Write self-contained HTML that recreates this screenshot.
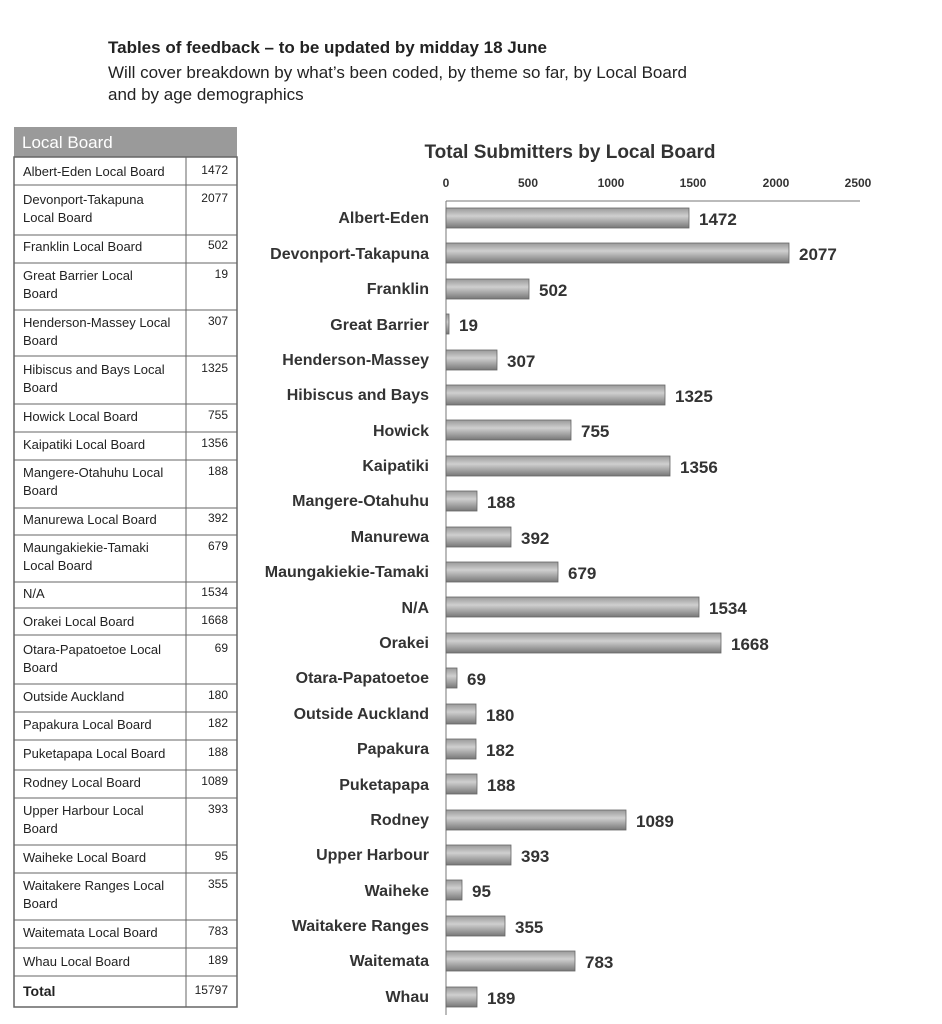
<!DOCTYPE html>
<html><head><meta charset="utf-8"><style>
body{margin:0;background:#fff;}
svg{display:block;font-family:"Liberation Sans",sans-serif;}
.t{font-size:13px;fill:#222}
.v{font-size:12px;fill:#222;text-anchor:end}
.c{font-size:16px;font-weight:bold;fill:#333;text-anchor:end}
.n{font-size:17px;font-weight:bold;fill:#333}
.ax{font-size:12px;font-weight:bold;fill:#333;text-anchor:middle}
</style></head><body>
<svg width="942" height="1024" viewBox="0 0 942 1024">
<defs><linearGradient id="g" x1="0" y1="0" x2="0" y2="1"><stop offset="0" stop-color="#999"/><stop offset="0.4" stop-color="#cfcfcf"/><stop offset="1" stop-color="#777"/></linearGradient></defs>
<text x="108" y="53" font-size="17" font-weight="bold" fill="#222">Tables of feedback – to be updated by midday 18 June</text>
<text x="108" y="78" font-size="17" fill="#222">Will cover breakdown by what’s been coded, by theme so far, by Local Board</text>
<text x="108" y="100" font-size="17" fill="#222">and by age demographics</text>
<rect x="14" y="127" width="223" height="30" fill="#9a9a9a"/>
<text x="22" y="148" font-size="17" fill="#fff">Local Board</text>
<rect x="14" y="157" width="223" height="850" fill="none" stroke="#666" stroke-width="1.5"/>
<line x1="186" y1="157" x2="186" y2="1007" stroke="#666"/>
<g stroke="#666">
<line x1="14" x2="237" y1="185" y2="185"/><line x1="14" x2="237" y1="235" y2="235"/><line x1="14" x2="237" y1="263" y2="263"/><line x1="14" x2="237" y1="310" y2="310"/><line x1="14" x2="237" y1="356" y2="356"/><line x1="14" x2="237" y1="404" y2="404"/><line x1="14" x2="237" y1="432" y2="432"/><line x1="14" x2="237" y1="460" y2="460"/><line x1="14" x2="237" y1="508" y2="508"/><line x1="14" x2="237" y1="535" y2="535"/><line x1="14" x2="237" y1="582" y2="582"/><line x1="14" x2="237" y1="608" y2="608"/><line x1="14" x2="237" y1="635" y2="635"/><line x1="14" x2="237" y1="684" y2="684"/><line x1="14" x2="237" y1="712" y2="712"/><line x1="14" x2="237" y1="740" y2="740"/><line x1="14" x2="237" y1="770" y2="770"/><line x1="14" x2="237" y1="798" y2="798"/><line x1="14" x2="237" y1="845" y2="845"/><line x1="14" x2="237" y1="873" y2="873"/><line x1="14" x2="237" y1="920" y2="920"/><line x1="14" x2="237" y1="948" y2="948"/><line x1="14" x2="237" y1="976" y2="976"/>
</g>
<g class="t">
<text x="23" y="176">Albert-Eden Local Board</text>
<text x="23" y="204">Devonport-Takapuna</text><text x="23" y="222">Local Board</text>
<text x="23" y="251">Franklin Local Board</text>
<text x="23" y="280">Great Barrier Local</text><text x="23" y="298">Board</text>
<text x="23" y="327">Henderson-Massey Local</text><text x="23" y="345">Board</text>
<text x="23" y="374">Hibiscus and Bays Local</text><text x="23" y="392">Board</text>
<text x="23" y="421">Howick Local Board</text>
<text x="23" y="449">Kaipatiki Local Board</text>
<text x="23" y="477">Mangere-Otahuhu Local</text><text x="23" y="495">Board</text>
<text x="23" y="524">Manurewa Local Board</text>
<text x="23" y="552">Maungakiekie-Tamaki</text><text x="23" y="570">Local Board</text>
<text x="23" y="598">N/A</text>
<text x="23" y="626">Orakei Local Board</text>
<text x="23" y="654">Otara-Papatoetoe Local</text><text x="23" y="672">Board</text>
<text x="23" y="701">Outside Auckland</text>
<text x="23" y="729">Papakura Local Board</text>
<text x="23" y="758">Puketapapa Local Board</text>
<text x="23" y="787">Rodney Local Board</text>
<text x="23" y="815">Upper Harbour Local</text><text x="23" y="833">Board</text>
<text x="23" y="862">Waiheke Local Board</text>
<text x="23" y="890">Waitakere Ranges Local</text><text x="23" y="908">Board</text>
<text x="23" y="937">Waitemata Local Board</text>
<text x="23" y="966">Whau Local Board</text>
<text x="23" y="996" font-size="14" font-weight="bold">Total</text>
</g>
<g class="v">
<text x="228" y="174">1472</text><text x="228" y="202">2077</text><text x="228" y="249">502</text><text x="228" y="278">19</text><text x="228" y="325">307</text><text x="228" y="372">1325</text><text x="228" y="419">755</text><text x="228" y="447">1356</text><text x="228" y="475">188</text><text x="228" y="522">392</text><text x="228" y="550">679</text><text x="228" y="596">1534</text><text x="228" y="624">1668</text><text x="228" y="652">69</text><text x="228" y="699">180</text><text x="228" y="727">182</text><text x="228" y="756">188</text><text x="228" y="785">1089</text><text x="228" y="813">393</text><text x="228" y="860">95</text><text x="228" y="888">355</text><text x="228" y="935">783</text><text x="228" y="964">189</text><text x="228" y="994">15797</text>
</g>
<text x="570" y="158" font-size="19" font-weight="bold" fill="#333" text-anchor="middle">Total Submitters by Local Board</text>
<g class="ax"><text x="446" y="187">0</text><text x="528" y="187">500</text><text x="611" y="187">1000</text><text x="693" y="187">1500</text><text x="776" y="187">2000</text><text x="858" y="187">2500</text></g>
<line x1="446" y1="201" x2="860" y2="201" stroke="#777"/>
<line x1="446" y1="201" x2="446" y2="1015" stroke="#777"/>
<g fill="url(#g)" stroke="#666" stroke-width="0.8">
<rect x="446" y="208" width="243" height="20"/><rect x="446" y="243" width="343" height="20"/><rect x="446" y="279" width="83" height="20"/><rect x="446" y="314" width="3" height="20"/><rect x="446" y="350" width="51" height="20"/><rect x="446" y="385" width="219" height="20"/><rect x="446" y="420" width="125" height="20"/><rect x="446" y="456" width="224" height="20"/><rect x="446" y="491" width="31" height="20"/><rect x="446" y="527" width="65" height="20"/><rect x="446" y="562" width="112" height="20"/><rect x="446" y="597" width="253" height="20"/><rect x="446" y="633" width="275" height="20"/><rect x="446" y="668" width="11" height="20"/><rect x="446" y="704" width="30" height="20"/><rect x="446" y="739" width="30" height="20"/><rect x="446" y="774" width="31" height="20"/><rect x="446" y="810" width="180" height="20"/><rect x="446" y="845" width="65" height="20"/><rect x="446" y="880" width="16" height="20"/><rect x="446" y="916" width="59" height="20"/><rect x="446" y="951" width="129" height="20"/><rect x="446" y="987" width="31" height="20"/>
</g>
<g class="c">
<text x="429" y="223">Albert-Eden</text><text x="429" y="259">Devonport-Takapuna</text><text x="429" y="294">Franklin</text><text x="429" y="330">Great Barrier</text><text x="429" y="365">Henderson-Massey</text><text x="429" y="400">Hibiscus and Bays</text><text x="429" y="436">Howick</text><text x="429" y="471">Kaipatiki</text><text x="429" y="506">Mangere-Otahuhu</text><text x="429" y="542">Manurewa</text><text x="429" y="577">Maungakiekie-Tamaki</text><text x="429" y="613">N/A</text><text x="429" y="648">Orakei</text><text x="429" y="683">Otara-Papatoetoe</text><text x="429" y="719">Outside Auckland</text><text x="429" y="754">Papakura</text><text x="429" y="790">Puketapapa</text><text x="429" y="825">Rodney</text><text x="429" y="860">Upper Harbour</text><text x="429" y="896">Waiheke</text><text x="429" y="931">Waitakere Ranges</text><text x="429" y="966">Waitemata</text><text x="429" y="1002">Whau</text>
</g>
<g class="n">
<text x="699" y="225">1472</text><text x="799" y="260">2077</text><text x="539" y="296">502</text><text x="459" y="331">19</text><text x="507" y="367">307</text><text x="675" y="402">1325</text><text x="581" y="437">755</text><text x="680" y="473">1356</text><text x="487" y="508">188</text><text x="521" y="544">392</text><text x="568" y="579">679</text><text x="709" y="614">1534</text><text x="731" y="650">1668</text><text x="467" y="685">69</text><text x="486" y="721">180</text><text x="486" y="756">182</text><text x="487" y="791">188</text><text x="636" y="827">1089</text><text x="521" y="862">393</text><text x="472" y="897">95</text><text x="515" y="933">355</text><text x="585" y="968">783</text><text x="487" y="1004">189</text>
</g>
</svg>
</body></html>
